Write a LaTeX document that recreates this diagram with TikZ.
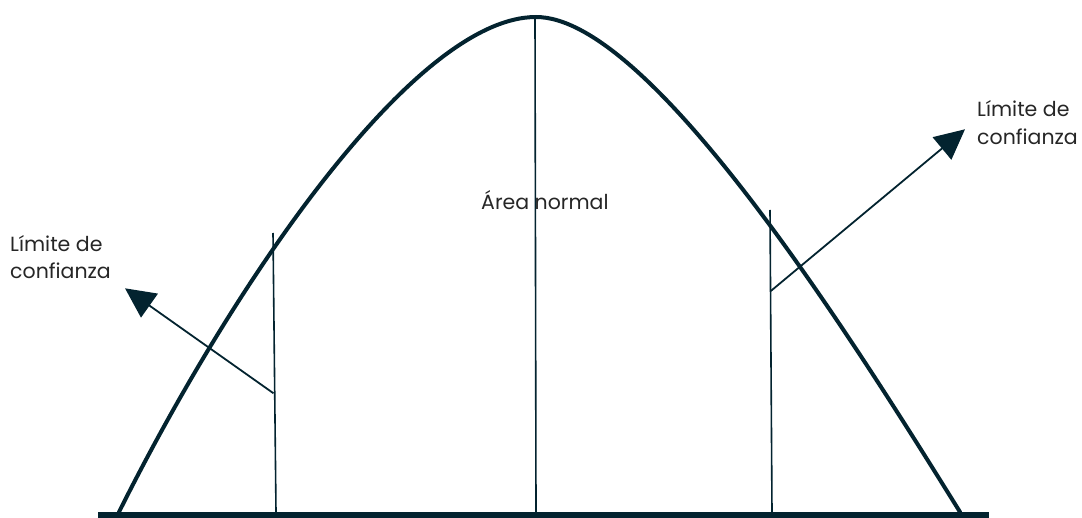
\documentclass[tikz,border=0pt]{standalone}
\usepackage{fontspec}
\setmainfont{Poppins}
\usetikzlibrary{arrows.meta}
\definecolor{ink}{HTML}{03232F}
\begin{document}
\begin{tikzpicture}[x=1pt,y=-1pt,
  lbl/.style={font=\fontsize{20.5}{28}\selectfont,inner sep=0pt,text=black!85},
  vline/.style={draw=ink,line width=1.6pt},
  pointer/.style={draw=ink,line width=1.8pt,-{Triangle[length=30pt,width=29pt]}},
  bell/.style={draw=ink,line width=4pt,line cap=round}]
\useasboundingbox (0,0) rectangle (1082,518);
% vertical lines
\coordinate (lt) at (273,233); \coordinate (lb) at (276,512);
\coordinate (ct) at (535,17);  \coordinate (cb) at (536,512);
\coordinate (rt) at (770,210); \coordinate (rb) at (772,512);
\draw[vline] (lt) -- (lb);
\draw[vline] (ct) -- (cb);
\draw[vline] (rt) -- (rb);
% bell curve
\coordinate (c0) at (119,512); \coordinate (cp) at (536,17); \coordinate (c1) at (960,512);
\draw[bell] (c0) .. controls (234,282) and (415,17) .. (cp)
                 .. controls (650,17) and (850,335) .. (c1);
% base line
\coordinate (b0) at (98,515); \coordinate (b1) at (989,515);
\draw[ink,line width=6pt] (b0) -- (b1);
% arrows
\coordinate (la) at (273.5,393.3); \coordinate (ltip) at (125,288.3);
\coordinate (ra) at (770.8,291);   \coordinate (rtip) at (965,129.3);
\draw[pointer] (la) -- (ltip);
\draw[pointer] (ra) -- (rtip);
% labels
\node[lbl,anchor=base west] (tl1) at (10,251.7) {Límite de};
\node[lbl,anchor=base west] (tl2) at (10,279) {confianza};
\node[lbl,anchor=base west] (tr1) at (977,116.7) {Límite de};
\node[lbl,anchor=base west] (tr2) at (977,145) {confianza};
\node[lbl,anchor=base west] (area) at (481,210) {Área normal};
\end{tikzpicture}
\end{document}
